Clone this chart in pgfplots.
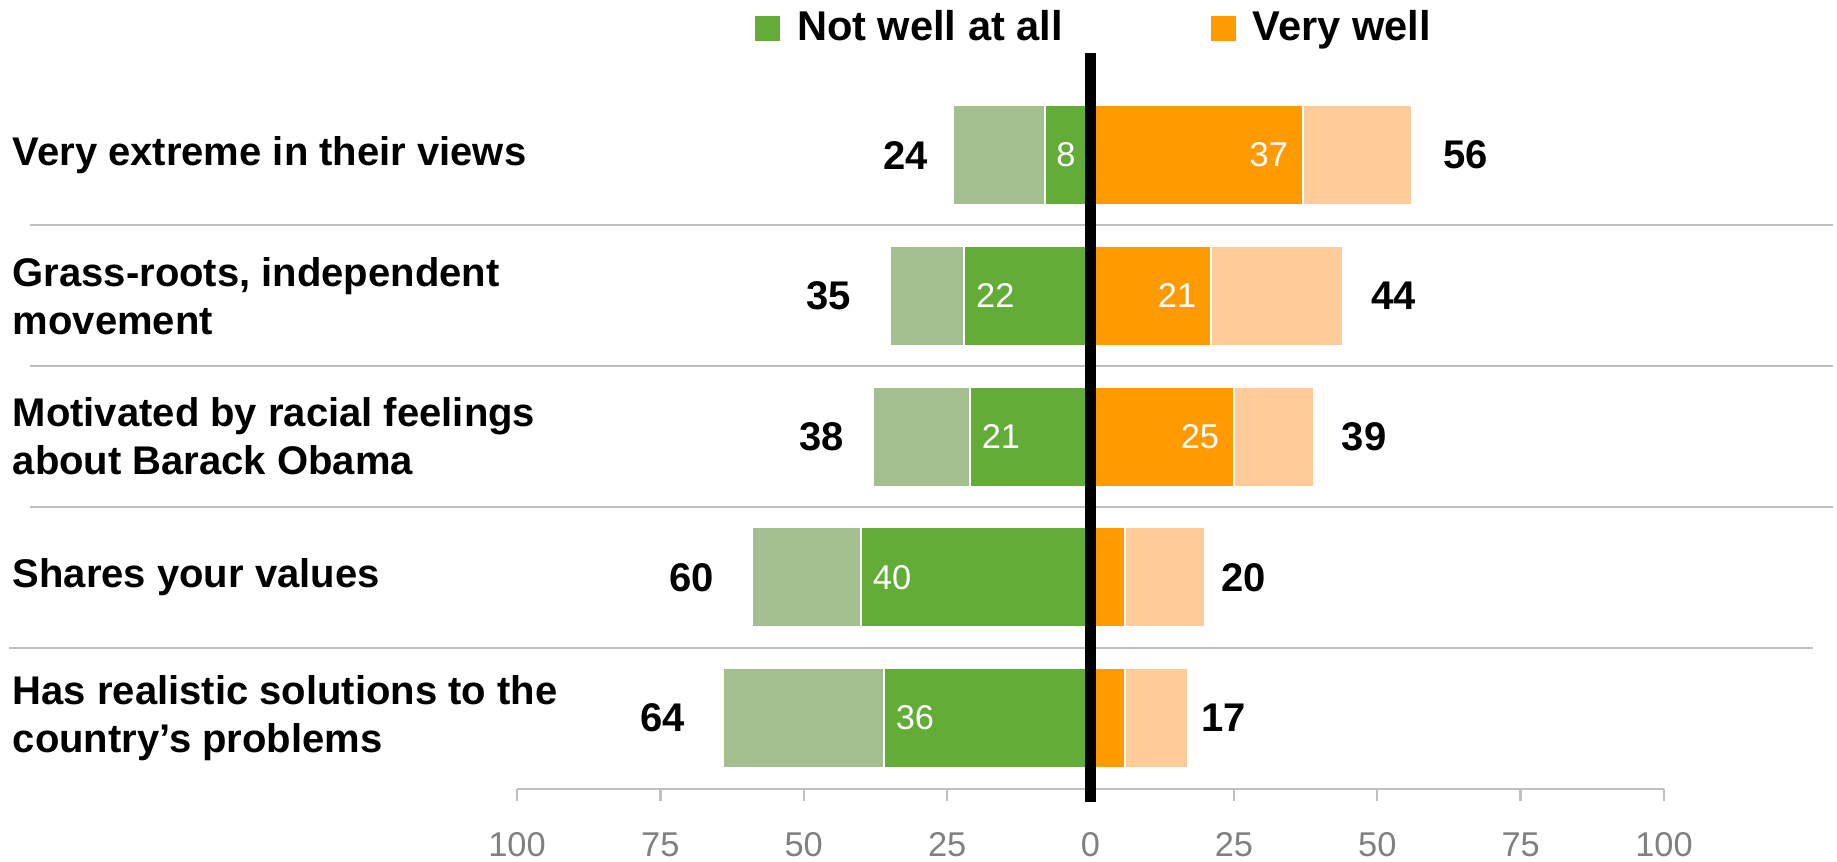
\documentclass[border=0pt]{standalone}
\usepackage{pgfplots}
\usepackage{pgfplotstable}
\pgfplotsset{compat=1.18}
\usepackage{fontspec}
\setmainfont{Liberation Sans}
\definecolor{dkgreen}{HTML}{62AC37}
\definecolor{ltgreen}{HTML}{A3BE8F}
\definecolor{dkorange}{HTML}{FF9B00}
\definecolor{ltorange}{HTML}{FFCC99}
\definecolor{gridgray}{HTML}{BFBFBF}
\definecolor{ticktext}{HTML}{808080}

\pgfplotstableread{
y nw nwtot nwlab nwout nwoutx vw vwtot vwlab vwout vwoutx
4 8 24 8 24 -28.2 37 56 37 56 61.4
3 22 35 22 35 -41.6 21 44 21 44 48.8
2 21 38 21 38 -42.9 25 39 25 39 43.7
1 40 59 40 60 -65.5 6 20 {} 20 22.7
0 36 64 36 64 -70.6 6 17 {} 17 19.2
}\datatable

\begin{document}
\begin{tikzpicture}
\begin{axis}[
  name=ax,
  scale only axis,
  width=286.75pt, height=184pt,
  xmin=-100, xmax=100, ymin=-0.504, ymax=4.725,
  clip=false,
  axis line style={draw=none},
  xtick={-100,-75,...,100},
  xticklabels={100,75,50,25,0,25,50,75,100},
  xtick pos=bottom,
  xtick style={gridgray, line width=0.6pt},
  tick align=outside,
  major tick length=3pt,
  xticklabel style={font=\fontsize{8.6}{10}\selectfont, text=ticktext, inner sep=0pt, anchor=north, yshift=-7.75pt},
  ytick={0,1,2,3,4},
  yticklabels={{Has realistic solutions to the\\country’s problems},{Shares your values},{Motivated by racial feelings\\about Barack Obama},{Grass-roots, independent\\movement},{Very extreme in their views}},
  ytick style={draw=none},
  yticklabel style={anchor=west, align=left, inner sep=0pt, xshift=-123.25pt, font=\bfseries\fontsize{10}{12}\selectfont},
  legend columns=2,
  legend style={at={(axis description cs:0.2075,1.033)}, anchor=west, draw=none, fill=none, inner sep=0pt, outer sep=0pt,
    font=\bfseries\fontsize{10.4}{12}\selectfont,
    nodes={inner sep=0pt},
    /tikz/every odd column/.append style={column sep=4.25pt},
    /tikz/every even column/.append style={column sep=37pt}},
]
% separators
\draw[gridgray, line width=0.5pt] (axis cs:-185,3.5) -- (axis cs:129.4,3.5);
\draw[gridgray, line width=0.5pt] (axis cs:-185,2.5) -- (axis cs:129.4,2.5);
\draw[gridgray, line width=0.5pt] (axis cs:-185,1.5) -- (axis cs:129.4,1.5);
\draw[gridgray, line width=0.5pt] (axis cs:-188.5,0.5) -- (axis cs:126,0.5);
% bottom axis line
\draw[gridgray, line width=0.6pt] (axis cs:-100,-0.504) -- (axis cs:100,-0.504);

\addplot[xbar, bar width=0.71, bar shift=0pt, fill=ltgreen, draw=white, line width=0.5pt, forget plot]
  table[x expr=-\thisrow{nwtot}, y=y] {\datatable};
\addplot[xbar, bar width=0.71, bar shift=0pt, fill=dkgreen, draw=white, line width=0.5pt,
  legend image code/.code={\fill[dkgreen] (0pt,-2.875pt) rectangle (5.75pt,2.875pt);}]
  table[x expr=-\thisrow{nw}, y=y] {\datatable};
\addlegendentry{Not well at all}
\addplot[xbar, bar width=0.71, bar shift=0pt, fill=ltorange, draw=white, line width=0.5pt, forget plot]
  table[x=vwtot, y=y] {\datatable};
\addplot[xbar, bar width=0.71, bar shift=0pt, fill=dkorange, draw=white, line width=0.5pt,
  legend image code/.code={\fill[dkorange] (0pt,-2.875pt) rectangle (5.75pt,2.875pt);}]
  table[x=vw, y=y] {\datatable};
\addlegendentry{Very well}

% inner labels
\addplot[draw=none, forget plot, nodes near coords, point meta=explicit symbolic,
  every node near coord/.append style={anchor=west, inner sep=0pt, xshift=2.75pt, text=white, font=\fontsize{8.6}{10}\selectfont}]
  table[x expr=-\thisrow{nw}, y=y, meta=nwlab] {\datatable};
\addplot[draw=none, forget plot, nodes near coords, point meta=explicit symbolic,
  every node near coord/.append style={anchor=east, inner sep=0pt, xshift=-3.5pt, text=white, font=\fontsize{8.6}{10}\selectfont}]
  table[x=vw, y=y, meta=vwlab] {\datatable};
% outer labels
\addplot[draw=none, forget plot, nodes near coords, point meta=explicit symbolic,
  every node near coord/.append style={anchor=east, inner sep=0pt, font=\bfseries\fontsize{10}{12}\selectfont}]
  table[x=nwoutx, y=y, meta=nwout] {\datatable};
\addplot[draw=none, forget plot, nodes near coords, point meta=explicit symbolic,
  every node near coord/.append style={anchor=west, inner sep=0pt, font=\bfseries\fontsize{10}{12}\selectfont}]
  table[x=vwoutx, y=y, meta=vwout] {\datatable};

% zero line
\draw[black, line width=2.7pt] (axis cs:0,4.725) -- (axis cs:0,-0.596);
\end{axis}
\pgfresetboundingbox
\path (ax.south west) ++(-129.25pt,-18pt) rectangle ++(459.25pt,215.25pt);
\end{tikzpicture}
\end{document}
